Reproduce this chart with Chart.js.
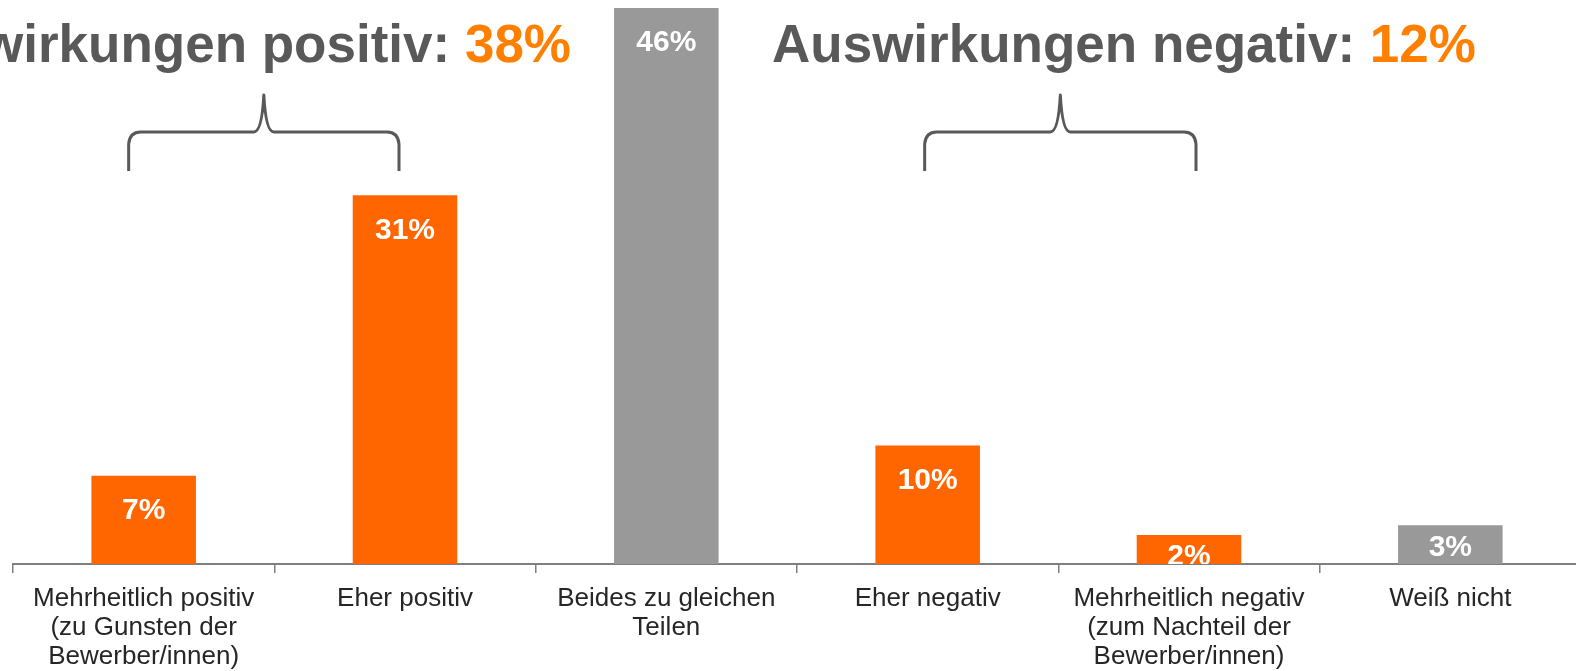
<!DOCTYPE html>
<html>
<head>
<meta charset="utf-8">
<script src="https://cdn.jsdelivr.net/npm/chart.js@4"></script>
<style>
  html, body { margin: 0; padding: 0; background: #fff; overflow: hidden; }
  #wrap { position: absolute; left: 0; top: 0; width: 1600px; height: 671px; }
</style>
</head>
<body>
<div id="wrap"><canvas id="chart"></canvas></div>
<script>
// Kategorien (mehrzeilige Achsenbeschriftungen)
const categories = [
  ["Mehrheitlich positiv", "(zu Gunsten der", "Bewerber/innen)"],
  ["Eher positiv"],
  ["Beides zu gleichen", "Teilen"],
  ["Eher negativ"],
  ["Mehrheitlich negativ", "(zum Nachteil der", "Bewerber/innen)"],
  ["Weiß nicht"]
];
// Anteile in % (aus den Balkenhöhen geschätzt, Beschriftung gerundet)
const shares = [7.3, 30.5, 46, 9.8, 2.4, 3.2];
// Gruppen für die Klammern
const positiveIdx = [0, 1];
const negativeIdx = [3, 4];

const ORANGE = "#ff6600";
const GREY = "#999999";
const barColors = [ORANGE, ORANGE, GREY, ORANGE, ORANGE, GREY];

const FONT = '"Liberation Sans", Arial, sans-serif';
const pct = i => Math.round(shares[i]);
const sumPct = idx => idx.reduce((s, i) => s + pct(i), 0);

// Wertbeschriftungen in den Balken
const valueLabels = {
  id: "valueLabels",
  afterDatasetsDraw(chart) {
    const ctx = chart.ctx;
    const area = chart.chartArea;
    const meta = chart.getDatasetMeta(0);
    ctx.save();
    ctx.beginPath();
    ctx.rect(area.left, area.top, area.right - area.left, area.bottom - area.top);
    ctx.clip();
    ctx.fillStyle = "#fff";
    ctx.font = "bold 30px " + FONT;
    ctx.textAlign = "center";
    ctx.textBaseline = "middle";
    meta.data.forEach((bar, i) => {
      const top = bar.y, base = bar.base;
      const mid = (top + base) / 2;
      const y = Math.min(top + 35, Math.max(mid + 1.5, top + 22));
      ctx.fillText(pct(i) + "%", bar.x, y);
    });
    ctx.restore();
  }
};

// Überschriften und geschweifte Klammern
function drawBrace(ctx, x0, x1, yTop, yBot, yPeak) {
  const mid = (x0 + x1) / 2;
  ctx.beginPath();
  ctx.moveTo(x0, yBot);
  ctx.lineTo(x0, yTop + 12);
  ctx.quadraticCurveTo(x0 + 1, yTop, x0 + 12, yTop);
  ctx.lineTo(mid - 10, yTop);
  ctx.quadraticCurveTo(mid - 2, yTop, mid, yPeak);
  ctx.quadraticCurveTo(mid + 2, yTop, mid + 10, yTop);
  ctx.lineTo(x1 - 12, yTop);
  ctx.quadraticCurveTo(x1 - 1, yTop, x1, yTop + 12);
  ctx.lineTo(x1, yBot);
  ctx.stroke();
}

function drawHeading(ctx, text, value, x, align) {
  ctx.font = "bold 53px " + FONT;
  ctx.textBaseline = "alphabetic";
  ctx.textAlign = "left";
  const w1 = ctx.measureText(text).width;
  const w2 = ctx.measureText(value).width;
  const start = align === "right" ? x - w1 - w2 : x;
  ctx.fillStyle = "#595959";
  ctx.fillText(text, start, 62);
  ctx.fillStyle = "#ff8000";
  ctx.fillText(value, start + w1, 62);
}

const headings = {
  id: "headings",
  afterDraw(chart) {
    const ctx = chart.ctx;
    const xs = chart.scales.x;
    ctx.save();
    ctx.strokeStyle = "#595959";
    ctx.lineWidth = 3;
    ctx.lineJoin = "round";
    const p0 = xs.getPixelForValue(positiveIdx[0]) - 15;
    const p1 = xs.getPixelForValue(positiveIdx[1]) - 6;
    drawBrace(ctx, p0, p1, 132, 171, 95);
    const n0 = xs.getPixelForValue(negativeIdx[0]) - 3;
    const n1 = xs.getPixelForValue(negativeIdx[1]) + 7;
    drawBrace(ctx, n0, n1, 132, 171, 95);
    drawHeading(ctx, "Auswirkungen positiv: ", sumPct(positiveIdx) + "%", 571, "right");
    drawHeading(ctx, "Auswirkungen negativ: ", sumPct(negativeIdx) + "%", 772, "left");
    ctx.restore();
  }
};

new Chart(document.getElementById("chart"), {
  type: "bar",
  data: {
    labels: categories,
    datasets: [{
      data: shares,
      backgroundColor: barColors,
      borderWidth: 0,
      barPercentage: 0.4,
      categoryPercentage: 1
    }]
  },
  options: {
    responsive: true,
    maintainAspectRatio: false,
    animation: false,
    layout: { padding: { left: 13, right: 19, top: 8, bottom: 0 } },
    plugins: {
      legend: { display: false },
      tooltip: { enabled: false }
    },
    scales: {
      x: {
        offset: true,
        grid: {
          display: true,
          drawOnChartArea: false,
          drawTicks: true,
          tickLength: 9,
          offset: true,
          color: "#7f7f7f",
          lineWidth: 1.5
        },
        border: { display: true, color: "#7f7f7f", width: 2 },
        ticks: {
          color: "#262626",
          font: { family: FONT, size: 26, lineHeight: 1.12 },
          padding: 11,
          maxRotation: 0,
          minRotation: 0,
          autoSkip: false
        },
        afterFit(axis) { axis.height = 107; }
      },
      y: { display: false, min: 0, max: 46 }
    }
  },
  plugins: [valueLabels, headings]
});
</script>
</body>
</html>
